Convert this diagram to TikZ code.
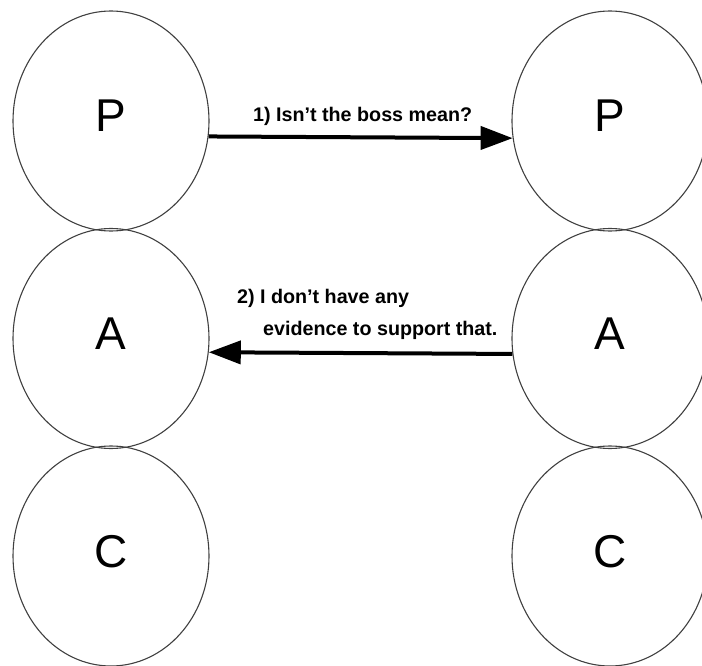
\documentclass[tikz,border=0pt]{standalone}
\usepackage{fontspec}
\setmainfont{Liberation Sans}
\usetikzlibrary{shapes.geometric,arrows.meta}
\tikzset{
  ring/.style={ellipse, draw=black!75, line width=1.1pt, minimum width=196pt, minimum height=220pt, inner sep=0pt, text depth=10pt, font=\fontsize{46}{46}\selectfont},
  msg/.style={line width=4pt, -{Triangle[length=32pt,width=23pt]}},
  lbl/.style={anchor=base west, inner sep=0pt, font=\fontsize{19.7}{22}\selectfont\bfseries}
}
\begin{document}
\begin{tikzpicture}[x=1pt,y=-1pt]
\useasboundingbox (0,0) rectangle (702,666);
\clip (0,0) rectangle (702,666);
\node[ring] (pL) at (111,121) {P};
\node[ring] (aL) at (111,338.5) {A};
\node[ring] (cL) at (111,556) {C};
\node[ring] (pR) at (610,121) {P};
\node[ring] (aR) at (610,338.5) {A};
\node[ring] (cR) at (610,556) {C};
\draw[msg] (pL.-9.4) -- (pR.-170.6);
\draw[msg] (aR.-171.5) -- (aL.-8.5);
\node[lbl] (t1) at (253,122) {1) Isn't the boss mean?};
\node[lbl] (t2a) at (237,303) {2) I don't have any};
\node[lbl] (t2b) at (263,335) {evidence to support that.};
\end{tikzpicture}
\end{document}
